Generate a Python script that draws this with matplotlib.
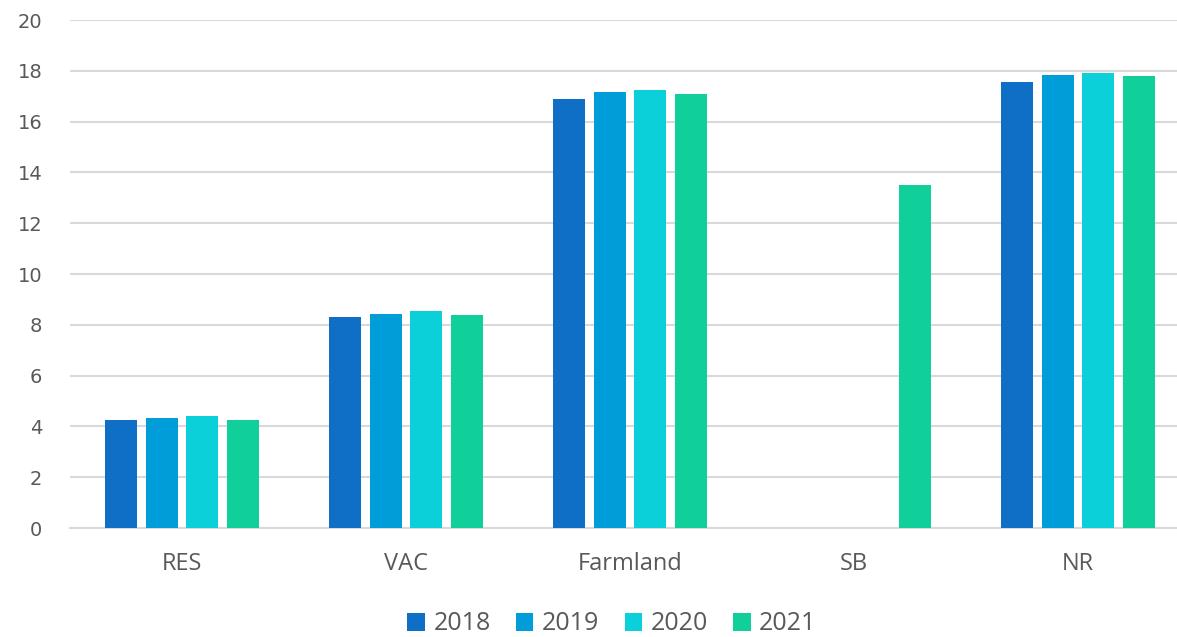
import matplotlib.pyplot as plt
import numpy as np

categories = ['RES', 'VAC', 'Farmland', 'SB', 'NR']
years = ['2018', '2019', '2020', '2021']
v2018 = [4.25, 8.30, 16.88, 0, 17.56]
v2019 = [4.33, 8.43, 17.15, 0, 17.83]
v2020 = [4.41, 8.54, 17.23, 0, 17.91]
v2021 = [4.27, 8.39, 17.09, 13.50, 17.80]
colors = ['#0F6FC6', '#009DD9', '#0BD0D9', '#10CF9B']

plt.rcParams['font.family'] = ['Open Sans', 'DejaVu Sans']

fig = plt.figure(figsize=(11.77, 6.37), dpi=100)
ax = fig.add_axes([70 / 1177, 1 - 528 / 637, 1 - 70 / 1177, 508 / 637])

x = np.arange(len(categories))
step = 0.181
width = 0.143
for i, (vals, yr) in enumerate(zip([v2018, v2019, v2020, v2021], years)):
    ax.bar(x + (i - 1.5) * step, vals, width, color=colors[i], label=yr, zorder=3)

# category slots are 224px wide; the last one is cut by the figure edge
ax.set_xlim(-0.5, 4.442)
ax.set_ylim(0, 20)
ax.set_yticks(np.arange(0, 21, 2))
ax.set_xticks(x)
ax.set_xticklabels(categories, fontsize=17)
for lbl in ax.get_yticklabels():
    lbl.set_family('DejaVu Sans')
    lbl.set_fontsize(14)
ax.grid(axis='y', color='#d9d9d9', linewidth=1.5, zorder=0)
for s in ['top', 'right', 'left']:
    ax.spines[s].set_visible(False)
ax.spines['bottom'].set_color('#d9d9d9')
ax.spines['bottom'].set_linewidth(1.5)
ax.tick_params(axis='both', length=0, colors='#595959')
ax.tick_params(axis='y', pad=20)
ax.tick_params(axis='x', pad=17)

handles, labels = ax.get_legend_handles_labels()
leg = fig.legend(handles, labels, loc='center', bbox_to_anchor=(612 / 1177, 1 - 624 / 637),
                 ncol=4, frameon=False, fontsize=18, handlelength=0.7, handleheight=0.7,
                 handletextpad=0.35, columnspacing=1.0)
for t in leg.get_texts():
    t.set_color('#595959')

fig.savefig('out.png', dpi=100)
